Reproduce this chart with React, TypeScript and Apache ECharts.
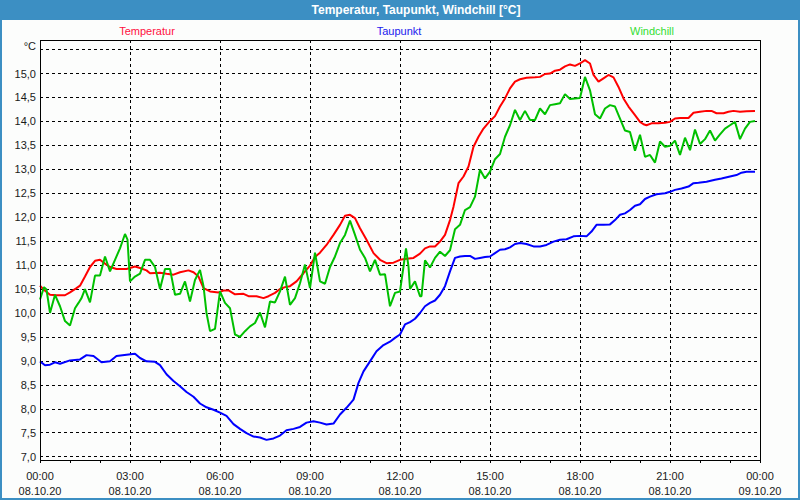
import React, { useEffect, useRef } from "react";
import * as echarts from "echarts";

// [minutes since 08.10.20 00:00, °C]
const temperatur: [number, number][] = [
  [0, 10.57], [7, 10.49], [20, 10.38], [33, 10.37], [50, 10.37], [60, 10.43], [73, 10.52], [80, 10.57],
  [90, 10.76], [100, 10.96], [110, 11.09], [120, 11.11], [130, 11.03], [140, 10.96], [153, 10.92], [173, 10.92],
  [190, 10.97], [200, 10.94], [213, 10.89], [220, 10.83], [240, 10.84], [253, 10.82], [267, 10.8], [280, 10.85],
  [297, 10.89], [307, 10.85], [317, 10.76], [327, 10.52], [340, 10.45], [357, 10.43], [367, 10.47], [377, 10.47],
  [390, 10.39], [407, 10.4], [417, 10.35], [433, 10.35], [447, 10.31], [457, 10.35], [470, 10.42], [480, 10.5],
  [490, 10.54], [500, 10.56], [513, 10.66], [527, 10.83], [540, 10.99], [550, 11.17], [560, 11.26], [573, 11.42],
  [587, 11.63], [600, 11.84], [610, 12.03], [620, 12.05], [630, 11.98], [640, 11.77], [653, 11.53], [667, 11.25],
  [680, 11.11], [693, 11.04], [707, 11.05], [720, 11.11], [733, 11.13], [747, 11.15], [760, 11.24], [770, 11.35],
  [780, 11.39], [790, 11.39], [800, 11.49], [810, 11.63], [820, 11.94], [827, 12.22], [837, 12.71], [847, 12.85],
  [857, 13.06], [867, 13.47], [877, 13.68], [887, 13.85], [900, 14.01], [910, 14.11], [920, 14.31], [930, 14.48],
  [940, 14.69], [950, 14.83], [960, 14.88], [973, 14.91], [990, 14.92], [1000, 14.93], [1010, 14.99], [1020, 15.0],
  [1030, 15.06], [1040, 15.08], [1050, 15.15], [1060, 15.19], [1070, 15.16], [1080, 15.21], [1090, 15.28], [1100, 15.21],
  [1107, 14.97], [1117, 14.83], [1127, 14.9], [1137, 14.97], [1147, 14.92], [1157, 14.72], [1167, 14.48], [1177, 14.31],
  [1190, 14.13], [1200, 13.99], [1207, 13.94], [1213, 13.92], [1223, 13.96], [1237, 13.96], [1250, 13.97], [1260, 13.99],
  [1270, 14.06], [1280, 14.07], [1297, 14.07], [1307, 14.18], [1320, 14.2], [1333, 14.22], [1343, 14.22], [1353, 14.17],
  [1367, 14.17], [1377, 14.2], [1387, 14.22], [1400, 14.2], [1413, 14.21], [1430, 14.22],
];

const taupunkt: [number, number][] = [
  [0, 8.99], [10, 8.91], [20, 8.92], [30, 8.97], [40, 8.94], [60, 9.01], [80, 9.03], [93, 9.12], [107, 9.1],
  [123, 8.97], [140, 8.99], [153, 9.1], [173, 9.13], [190, 9.15], [200, 9.06], [213, 8.99], [230, 8.98], [240, 8.91],
  [253, 8.72], [267, 8.58], [280, 8.47], [293, 8.35], [307, 8.25], [320, 8.11], [333, 8.03], [347, 7.98], [360, 7.92],
  [373, 7.85], [387, 7.68], [400, 7.58], [413, 7.49], [427, 7.42], [440, 7.4], [453, 7.35], [467, 7.38], [480, 7.44],
  [493, 7.55], [507, 7.58], [520, 7.62], [533, 7.71], [547, 7.74], [560, 7.71], [573, 7.67], [587, 7.69], [600, 7.88],
  [613, 8.02], [627, 8.19], [637, 8.54], [647, 8.78], [660, 8.99], [673, 9.2], [687, 9.33], [700, 9.4], [710, 9.48],
  [720, 9.55], [730, 9.76], [740, 9.81], [750, 9.88], [760, 10.0], [770, 10.14], [780, 10.21], [790, 10.26], [800, 10.38],
  [810, 10.56], [820, 10.87], [830, 11.15], [840, 11.18], [850, 11.19], [860, 11.19], [870, 11.13], [880, 11.15],
  [890, 11.17], [900, 11.18], [910, 11.25], [920, 11.32], [930, 11.33], [940, 11.37], [950, 11.44], [960, 11.46],
  [973, 11.44], [987, 11.39], [1000, 11.39], [1013, 11.42], [1027, 11.49], [1040, 11.53], [1053, 11.54], [1067, 11.6],
  [1080, 11.61], [1093, 11.6], [1103, 11.7], [1113, 11.84], [1127, 11.84], [1140, 11.85], [1150, 11.94], [1160, 12.05],
  [1170, 12.08], [1180, 12.15], [1190, 12.24], [1200, 12.27], [1210, 12.38], [1220, 12.43], [1233, 12.48], [1250, 12.5],
  [1260, 12.53], [1270, 12.57], [1283, 12.6], [1297, 12.64], [1307, 12.71], [1317, 12.72], [1333, 12.74], [1350, 12.78],
  [1363, 12.81], [1380, 12.85], [1393, 12.88], [1403, 12.93], [1413, 12.95], [1430, 12.95],
];

const windchill: [number, number][] = [
  [0, 10.28], [8, 10.54], [13, 10.49], [20, 10.0], [30, 10.38], [40, 10.14], [50, 9.83], [60, 9.74], [70, 10.1],
  [77, 10.21], [83, 10.31], [90, 10.5], [100, 10.22], [110, 10.78], [120, 10.78], [130, 11.18], [140, 10.87],
  [150, 11.11], [160, 11.35], [170, 11.65], [175, 11.53], [180, 10.66], [190, 10.76], [200, 10.82], [210, 11.11],
  [220, 11.11], [230, 10.96], [240, 10.5], [250, 10.92], [260, 10.92], [270, 10.38], [280, 10.4], [290, 10.66],
  [300, 10.24], [310, 10.69], [320, 10.9], [327, 10.56], [333, 10.0], [340, 9.62], [350, 9.67], [360, 10.45],
  [370, 10.21], [380, 10.1], [390, 9.55], [400, 9.5], [410, 9.62], [420, 9.72], [430, 9.79], [440, 10.01], [450, 9.7],
  [460, 10.24], [470, 10.22], [480, 10.45], [490, 10.76], [500, 10.17], [510, 10.31], [520, 10.62], [530, 11.01],
  [540, 10.52], [550, 11.26], [560, 10.66], [570, 10.61], [580, 10.96], [590, 11.18], [600, 11.46], [610, 11.63],
  [620, 11.93], [630, 11.63], [640, 11.32], [650, 11.15], [660, 10.87], [670, 11.11], [680, 10.8], [690, 10.81],
  [700, 10.14], [710, 10.42], [720, 10.45], [727, 10.97], [732, 11.35], [737, 10.97], [740, 10.5], [750, 10.66],
  [760, 10.35], [763, 10.35], [770, 11.1], [780, 10.95], [790, 11.15], [800, 11.28], [810, 11.19], [820, 11.31],
  [830, 11.75], [840, 11.84], [850, 12.15], [860, 12.21], [870, 12.43], [880, 12.99], [890, 12.81], [900, 12.95],
  [910, 13.21], [920, 13.32], [930, 13.68], [940, 13.92], [950, 14.24], [960, 14.03], [970, 14.22], [980, 14.03],
  [990, 14.03], [1000, 14.27], [1010, 14.15], [1020, 14.34], [1030, 14.36], [1040, 14.38], [1050, 14.57], [1060, 14.47],
  [1070, 14.48], [1080, 14.49], [1090, 14.93], [1100, 14.65], [1110, 14.15], [1120, 14.06], [1130, 14.27], [1140, 14.34],
  [1150, 14.31], [1160, 14.06], [1170, 13.81], [1180, 13.78], [1190, 13.39], [1200, 13.72], [1210, 13.26], [1220, 13.3],
  [1230, 13.14], [1240, 13.58], [1250, 13.47], [1260, 13.49], [1270, 13.6], [1280, 13.3], [1290, 13.66], [1300, 13.4],
  [1310, 13.83], [1320, 13.53], [1330, 13.63], [1340, 13.81], [1350, 13.6], [1360, 13.73], [1370, 13.85], [1380, 13.92],
  [1390, 13.99], [1400, 13.63], [1410, 13.85], [1420, 13.99], [1430, 14.01],
];

const yTickValues = [7, 7.5, 8, 8.5, 9, 9.5, 10, 10.5, 11, 11.5, 12, 12.5, 13, 13.5, 14, 14.5, 15, 15.5];
const yLabelValues = [7, 7.5, 8, 8.5, 9, 9.5, 10, 10.5, 11, 11.5, 12, 12.5, 13, 13.5, 14, 14.5, 15];
const startDate = "08.10.20";
const endDate = "09.10.20";

const FONT = "Liberation Sans";

export default function App() {
  const ref = useRef<HTMLDivElement>(null);
  useEffect(() => {
    if (!ref.current) return;
    const chart = echarts.init(ref.current, null, { renderer: "svg" });
    chart.setOption({
      animation: false,
      backgroundColor: "#fcfdfc",
      textStyle: { fontFamily: FONT },
      grid: { left: 40, right: 40, top: 40, bottom: 40, containLabel: false },
      xAxis: {
        type: "value",
        min: 0,
        max: 1440,
        interval: 180,
        axisLine: { show: false },
        axisTick: { show: true, length: 3, lineStyle: { color: "#000" } },
        minorTick: { show: true, splitNumber: 3, length: 3, lineStyle: { color: "#000" } },
        splitLine: { show: true, lineStyle: { color: "#000", type: [3, 3], width: 1 } },
        axisLabel: {
          color: "#1a1a1a",
          fontSize: 11,
          fontFamily: FONT,
          lineHeight: 15,
          margin: 8,
          formatter: (v: number) => {
            const h = Math.floor((v % 1440) / 60);
            const mm = Math.round(v % 60);
            const t = String(h).padStart(2, "0") + ":" + String(mm).padStart(2, "0");
            return t + "\n" + (v >= 1440 ? endDate : startDate);
          },
        },
      },
      yAxis: {
        type: "value",
        min: 6.93,
        max: 15.7,
        axisLine: { show: false },
        axisTick: { show: false, customValues: yTickValues },
        splitLine: { show: true, lineStyle: { color: "#000", type: [3, 3], width: 1 } },
        axisLabel: {
          customValues: yLabelValues,
          color: "#1a1a1a",
          fontSize: 11,
          fontFamily: FONT,
          margin: 4,
          formatter: (v: number) => v.toFixed(1).replace(".", ","),
        },
      },
      graphic: [
        { type: "rect", z: 100, shape: { x: 0, y: 0, width: 800, height: 20 }, style: { fill: "#3c8fc3" } },
        {
          type: "rect", z: 100, shape: { x: 1, y: 1, width: 798, height: 498 },
          style: { fill: "none", stroke: "#3c8fc3", lineWidth: 2 },
        },
        {
          type: "text", z: 101, x: 416, y: 10,
          style: {
            text: "Temperatur, Taupunkt, Windchill [°C]", fill: "#ffffff", font: `bold 12px "${FONT}"`,
            textAlign: "center", textVerticalAlign: "middle",
          },
        },
        {
          type: "rect", z: 100, shape: { x: 40.5, y: 40.5, width: 720, height: 420 },
          style: { fill: "none", stroke: "#000", lineWidth: 1 },
        },
        {
          type: "text", z: 101, x: 147, y: 31,
          style: { text: "Temperatur", fill: "#ff1040", font: `11px "${FONT}"`, textAlign: "center", textVerticalAlign: "middle" },
        },
        {
          type: "text", z: 101, x: 399, y: 31,
          style: { text: "Taupunkt", fill: "#2020ee", font: `11px "${FONT}"`, textAlign: "center", textVerticalAlign: "middle" },
        },
        {
          type: "text", z: 101, x: 652, y: 31,
          style: { text: "Windchill", fill: "#33dd33", font: `11px "${FONT}"`, textAlign: "center", textVerticalAlign: "middle" },
        },
        {
          type: "text", z: 101, x: 36, y: 46,
          style: { text: "°C", fill: "#1a1a1a", font: `11px "${FONT}"`, textAlign: "right", textVerticalAlign: "middle" },
        },
      ],
      series: [
        {
          name: "Temperatur", type: "line", showSymbol: false, symbol: "none",
          data: temperatur,
          lineStyle: { color: "#ff0000", width: 2 }, itemStyle: { color: "#ff0000" },
        },
        {
          name: "Taupunkt", type: "line", showSymbol: false, symbol: "none",
          data: taupunkt,
          lineStyle: { color: "#0000ff", width: 2 }, itemStyle: { color: "#0000ff" },
        },
        {
          name: "Windchill", type: "line", showSymbol: false, symbol: "none",
          data: windchill,
          lineStyle: { color: "#00c000", width: 2 }, itemStyle: { color: "#00c000" },
        },
      ],
    });
    return () => chart.dispose();
  }, []);
  return <div ref={ref} style={{ position: "absolute", left: 0, top: 0, width: 800, height: 500 }} />;
}
